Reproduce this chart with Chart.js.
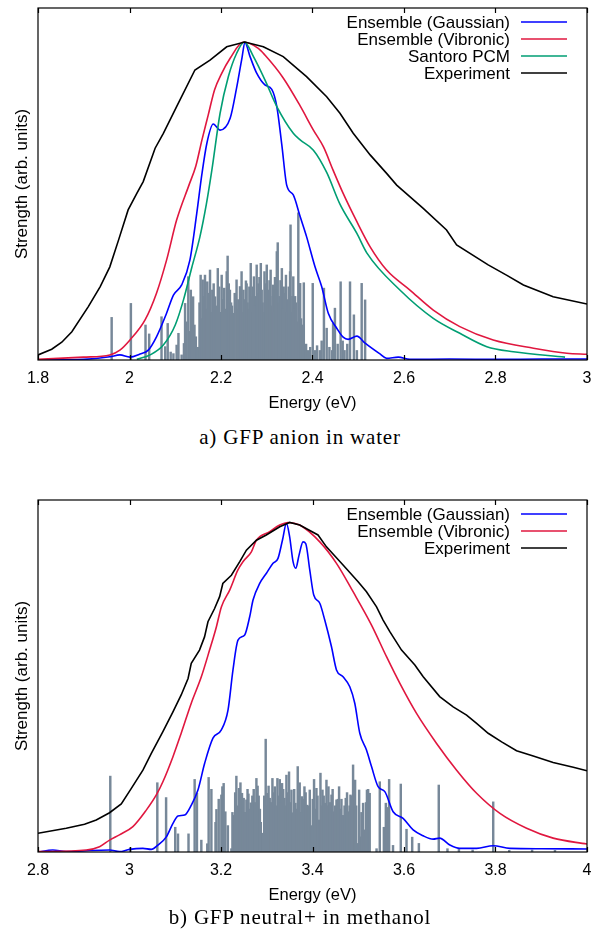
<!DOCTYPE html>
<html><head><meta charset="utf-8">
<script src="https://cdn.jsdelivr.net/npm/chart.js@4.4.0/dist/chart.umd.min.js"></script>
<style>
html,body{margin:0;padding:0;background:#fff;width:600px;height:939px;overflow:hidden;position:relative;}
.wrap{position:absolute;left:0;width:600px;height:420px;}
.cap{position:absolute;left:0;width:600px;text-align:center;font-family:"Liberation Serif","Times New Roman",serif;font-size:21px;letter-spacing:0.8px;line-height:24px;color:#000;}
</style></head><body>
<div class="wrap" style="top:0px"><canvas id="c1" width="600" height="420"></canvas></div>
<div class="cap" style="top:425px">a) GFP anion in water</div>
<div class="wrap" style="top:492px"><canvas id="c2" width="600" height="420"></canvas></div>
<div class="cap" style="top:905px">b) GFP neutral+ in methanol</div>
<script>
// ---------- tick labels ----------
const ticksA = [1.8, 2.0, 2.2, 2.4, 2.6, 2.8, 3.0];
const ticksB = [2.8, 3.0, 3.2, 3.4, 3.6, 3.8, 4.0];

// ---------- a) GFP anion in water ----------
const namesA = ['Ensemble (Gaussian)', 'Ensemble (Vibronic)', 'Santoro PCM', 'Experiment'];
const gaussA_E = [1.800,1.900,1.957,1.979,2.001,2.023,2.041,2.059,2.081,2.096,2.114,2.132,2.147,2.158,2.169,2.183,2.198,2.220,2.234,2.245,2.2525,2.2635,2.278,2.296,2.311,2.322,2.333,2.3436,2.358,2.373,2.387,2.4055,2.420,2.4345,2.453,2.467,2.478,2.497,2.515,2.5475,2.562,2.5875,2.613,2.700,2.810,2.900,3.000];
const gaussA_S = [0.000,0.002,0.010,0.016,0.009,0.019,0.031,0.073,0.147,0.204,0.236,0.314,0.461,0.582,0.681,0.742,0.723,0.760,0.855,0.943,0.998,0.954,0.902,0.865,0.851,0.797,0.676,0.550,0.519,0.451,0.388,0.293,0.231,0.147,0.100,0.072,0.065,0.075,0.053,0.019,0.005,0.009,0.002,0.003,0.002,0.003,0.003];
const vibA_E = [1.800,1.899,1.957,1.979,2.001,2.034,2.059,2.081,2.103,2.130,2.145,2.158,2.172,2.186,2.201,2.220,2.249,2.2815,2.296,2.336,2.373,2.402,2.424,2.445,2.467,2.497,2.526,2.562,2.613,2.664,2.722,2.795,2.883,2.956,3.000];
const vibA_S = [0.002,0.009,0.016,0.031,0.063,0.126,0.210,0.314,0.440,0.550,0.610,0.690,0.770,0.850,0.900,0.949,1.000,0.980,0.959,0.887,0.799,0.723,0.670,0.597,0.524,0.435,0.356,0.283,0.220,0.157,0.105,0.063,0.037,0.021,0.018];
const pcmA_E = [2.016,2.045,2.074,2.100,2.118,2.136,2.154,2.168,2.180,2.198,2.216,2.234,2.251,2.271,2.296,2.322,2.358,2.373,2.402,2.431,2.460,2.497,2.519,2.591,2.664,2.722,2.781,2.839,2.952];
const pcmA_S = [0.002,0.016,0.047,0.110,0.189,0.290,0.388,0.490,0.597,0.776,0.891,0.964,1.000,0.954,0.881,0.797,0.713,0.692,0.660,0.590,0.490,0.398,0.336,0.220,0.131,0.084,0.042,0.026,0.009];
const expA_E = [1.800,1.830,1.852,1.874,1.910,1.936,1.957,1.976,1.997,2.016,2.030,2.056,2.074,2.103,2.143,2.176,2.2125,2.252,2.2925,2.336,2.387,2.431,2.460,2.489,2.526,2.562,2.584,2.642,2.693,2.715,2.784,2.824,2.861,2.926,3.000];
const expA_S = [0.016,0.034,0.056,0.089,0.168,0.231,0.293,0.377,0.472,0.524,0.561,0.666,0.713,0.797,0.912,0.943,0.985,1.000,0.985,0.954,0.891,0.828,0.776,0.713,0.645,0.587,0.550,0.477,0.409,0.362,0.299,0.267,0.236,0.199,0.176];
const stickA_E = [1.961,2.003,2.035,2.043,2.070,2.078,2.0835,2.090,2.096,2.103,2.107,2.114,2.119,2.1215,2.1285,2.134,2.139,2.145,2.150,2.1555,2.160,2.165,2.170,2.176,2.181,2.187,2.193,2.198,2.2015,2.207,2.2125,2.2145,2.2195,2.224,2.227,2.234,2.238,2.2415,2.245,2.249,2.2545,2.258,2.262,2.265,2.268,2.272,2.275,2.278,2.282,2.287,2.291,2.295,2.300,2.304,2.3085,2.311,2.314,2.318,2.322,2.324,2.328,2.333,2.337,2.342,2.346,2.351,2.352,2.355,2.358,2.362,2.366,2.369,2.373,2.377,2.381,2.386,2.390,2.395,2.4005,2.405,2.410,2.416,2.420,2.425,2.431,2.437,2.443,2.445,2.449,2.455,2.4615,2.466,2.470,2.476,2.482,2.4905,2.497,2.5075,2.515,
  2.124,2.131,2.137,2.142,2.153,2.158,2.162,2.168,2.173,2.179,2.184,2.190,2.196,2.204,2.210,2.217,2.222,2.230,2.236,2.243,2.247,2.252,2.256,2.260,2.264,2.270,2.273,2.280,2.284,2.289,2.293,2.298,2.302,2.306,2.313,2.316,2.320,2.326,2.330,2.335,2.340,2.344,2.348,2.356,2.360,2.364,2.371,2.375,2.379];
const stickA_S = [0.134,0.178,0.110,0.082,0.136,0.042,0.115,0.025,0.020,0.047,0.084,0.016,0.052,0.178,0.262,0.220,0.199,0.073,0.040,0.267,0.252,0.267,0.246,0.283,0.220,0.199,0.288,0.150,0.267,0.226,0.278,0.327,0.220,0.170,0.147,0.252,0.190,0.231,0.278,0.220,0.249,0.180,0.230,0.304,0.150,0.262,0.200,0.299,0.240,0.304,0.180,0.278,0.299,0.220,0.283,0.170,0.236,0.260,0.341,0.369,0.200,0.288,0.230,0.267,0.190,0.278,0.425,0.150,0.262,0.200,0.120,0.463,0.241,0.090,0.243,0.050,0.030,0.040,0.241,0.030,0.045,0.030,0.060,0.226,0.100,0.040,0.030,0.115,0.163,0.050,0.246,0.060,0.030,0.050,0.246,0.142,0.030,0.241,0.189,
  0.120,0.090,0.150,0.110,0.180,0.130,0.200,0.160,0.210,0.150,0.240,0.170,0.230,0.190,0.160,0.240,0.180,0.210,0.160,0.200,0.150,0.190,0.240,0.160,0.200,0.230,0.170,0.210,0.260,0.220,0.150,0.240,0.190,0.250,0.200,0.150,0.220,0.180,0.250,0.160,0.210,0.150,0.230,0.200,0.160,0.180,0.150,0.130,0.110];

// ---------- b) GFP neutral+ in methanol ----------
const namesB = ['Ensemble (Gaussian)', 'Ensemble (Vibronic)', 'Experiment'];
const gaussB_E = [2.800,2.8324,2.8617,2.9055,2.9564,2.978,3.0002,3.0293,3.0477,3.062,3.0805,3.095,3.106,3.1205,3.135,3.1496,3.1643,3.1824,3.2008,3.2153,3.2262,3.2371,3.2518,3.2627,3.270,3.2846,3.2993,3.3137,3.3246,3.3343,3.343,3.350,3.3575,3.3634,3.3706,3.3793,3.3852,3.394,3.4027,3.4159,3.4268,3.4415,3.4524,3.4668,3.4815,3.4924,3.5034,3.518,3.529,3.5434,3.5581,3.5762,3.598,3.620,3.6419,3.6637,3.678,3.7003,3.722,3.7587,3.795,3.8315,3.900,4.000];
const gaussB_S = [0.000,0.006,0.001,0.004,0.006,0.001,0.008,0.011,0.008,0.021,0.046,0.087,0.109,0.112,0.142,0.188,0.269,0.345,0.370,0.430,0.552,0.642,0.658,0.713,0.764,0.814,0.845,0.875,0.890,0.945,0.996,0.956,0.880,0.860,0.900,0.940,0.935,0.855,0.779,0.754,0.703,0.622,0.552,0.531,0.501,0.451,0.360,0.309,0.259,0.198,0.183,0.122,0.102,0.067,0.049,0.039,0.042,0.021,0.011,0.011,0.019,0.011,0.010,0.009];
const vibB_E = [2.800,2.9055,2.9345,2.9564,2.978,3.0074,3.0367,3.0586,3.073,3.095,3.113,3.135,3.157,3.175,3.190,3.2008,3.219,3.237,3.248,3.2664,3.2774,3.3065,3.3284,3.3465,3.372,3.4159,3.4524,3.4887,3.529,3.5618,3.591,3.6274,3.6712,3.715,3.7587,3.8097,3.868,3.926,4.000];
const vibB_S = [0.001,0.006,0.016,0.036,0.052,0.077,0.127,0.173,0.213,0.289,0.360,0.451,0.531,0.612,0.683,0.743,0.794,0.855,0.880,0.910,0.945,0.971,0.991,0.999,0.991,0.940,0.875,0.789,0.688,0.592,0.511,0.420,0.329,0.248,0.178,0.117,0.072,0.042,0.024];
const expB_E = [2.800,2.8617,2.9017,2.9273,2.9564,2.982,3.004,3.0293,3.0477,3.073,3.095,3.113,3.128,3.135,3.153,3.164,3.1715,3.186,3.197,3.204,3.2227,3.241,3.2555,3.2774,3.299,3.3284,3.350,3.372,3.412,3.4305,3.4668,3.4997,3.518,3.540,3.5543,3.569,3.5946,3.6237,3.642,3.678,3.7075,3.7368,3.7587,3.784,3.8134,3.846,3.8825,3.926,3.970,4.000];
const expB_S = [0.057,0.072,0.084,0.097,0.119,0.146,0.193,0.248,0.299,0.365,0.425,0.476,0.526,0.572,0.612,0.652,0.698,0.738,0.774,0.814,0.839,0.880,0.915,0.945,0.961,0.986,0.999,0.991,0.961,0.925,0.870,0.819,0.789,0.743,0.703,0.668,0.612,0.567,0.531,0.471,0.440,0.415,0.390,0.360,0.334,0.307,0.291,0.271,0.257,0.246];
const stickB_E = [2.958,3.0017,3.0608,3.080,3.100,3.106,3.129,3.1424,3.1474,3.157,3.170,3.173,3.179,3.190,3.2008,3.203,3.2058,3.2095,3.2227,3.2284,3.2336,3.2393,3.2459,3.2496,3.2555,3.260,3.265,3.2715,3.2774,3.2824,3.287,3.2918,3.2977,3.3015,3.3065,3.3124,3.3175,3.3233,3.3284,3.3334,3.3386,3.343,3.3487,3.354,3.3575,3.3627,3.3677,3.372,3.3771,3.3824,3.388,3.394,3.398,3.4034,3.4086,3.4137,3.4174,3.4218,3.4268,3.4305,3.4349,3.4415,3.4465,3.4524,3.4581,3.4633,3.4668,3.4727,3.4787,3.483,3.4887,3.4931,3.498,3.5019,3.504,3.5106,3.5143,3.519,3.5216,3.525,3.540,3.5471,3.556,3.5603,3.563,3.5675,3.576,3.593,3.6055,3.6179,3.6325,3.676,3.695,3.720,3.750,3.795,3.830,3.880,3.930,
  3.188,3.195,3.215,3.225,3.231,3.2365,3.2425,3.2525,3.258,3.2625,3.2685,3.2745,3.280,3.285,3.2945,3.2995,3.304,3.3095,3.315,3.3205,3.326,3.331,3.336,3.341,3.346,3.351,3.360,3.365,3.370,3.3745,3.380,3.385,3.391,3.4005,3.406,3.411,3.4195,3.4245,3.4325,3.4385,3.444,3.4495,3.4555,3.461,3.470,3.4755,3.481,3.486,3.4955,3.507,3.517];
const stickB_S = [0.230,0.013,0.210,0.165,0.075,0.055,0.055,0.220,0.178,0.036,0.025,0.226,0.190,0.129,0.173,0.198,0.208,0.122,0.010,0.111,0.230,0.193,0.178,0.163,0.158,0.176,0.149,0.190,0.223,0.170,0.090,0.057,0.342,0.178,0.163,0.223,0.198,0.223,0.220,0.208,0.163,0.233,0.243,0.188,0.119,0.148,0.259,0.210,0.168,0.198,0.142,0.188,0.080,0.220,0.193,0.097,0.239,0.188,0.148,0.218,0.198,0.173,0.122,0.158,0.198,0.160,0.111,0.163,0.122,0.173,0.264,0.218,0.026,0.188,0.046,0.148,0.067,0.188,0.190,0.178,0.010,0.213,0.075,0.148,0.135,0.220,0.020,0.206,0.069,0.045,0.026,0.203,0.010,0.008,0.006,0.152,0.005,0.006,0.005,
  0.090,0.160,0.080,0.120,0.180,0.140,0.210,0.120,0.190,0.130,0.170,0.150,0.200,0.130,0.170,0.140,0.200,0.150,0.180,0.140,0.170,0.150,0.190,0.140,0.180,0.150,0.190,0.130,0.170,0.120,0.160,0.180,0.140,0.160,0.130,0.170,0.140,0.170,0.140,0.150,0.190,0.140,0.160,0.130,0.140,0.180,0.140,0.170,0.140,0.120,0.150];

// ---------- helpers ----------
const pts = (xs, ys) => xs.map((x, i) => ({x: x, y: ys[i]}));
const COL = {gauss: '#0000ff', vib: '#e0173f', pcm: '#009e73', exp: '#000000', stick: '#778899'};
const SANS = '"Liberation Sans", Arial, sans-serif';

const framePlugin = {
  id: 'gpFrame',
  afterDraw(chart) {
    const ctx = chart.ctx;
    const {left, right, top, bottom} = chart.chartArea;
    const xs = chart.scales.x;
    ctx.save();
    ctx.strokeStyle = '#000';
    ctx.lineWidth = 1.2;
    xs.ticks.forEach(t => {
      const px = Math.round(xs.getPixelForValue(t.value)) + 0.5;
      ctx.beginPath();
      ctx.moveTo(px, bottom); ctx.lineTo(px, bottom - 5);
      ctx.moveTo(px, top); ctx.lineTo(px, top + 5);
      ctx.stroke();
    });
    ctx.strokeRect(left, top, right - left, bottom - top);
    // gnuplot-style key
    ctx.font = '17px ' + SANS;
    ctx.fillStyle = '#000';
    ctx.textAlign = 'right';
    ctx.textBaseline = 'middle';
    let row = 0;
    chart.data.datasets.forEach(ds => {
      if (ds.type !== 'line') return;
      const y = top + 14 + row * 17;
      ctx.fillText(ds.label, 510, y + 1);
      ctx.beginPath();
      ctx.strokeStyle = ds.borderColor;
      ctx.lineWidth = 1.6;
      ctx.moveTo(521, y); ctx.lineTo(567, y);
      ctx.stroke();
      row++;
    });
    ctx.restore();
  }
};

function lineDs(label, xs, ys, color, order, smooth) {
  return {
    type: 'line', label: label, data: pts(xs, ys), borderColor: color,
    borderWidth: 1.6, pointRadius: 0, fill: false, order: order,
    tension: smooth ? 0.4 : 0, cubicInterpolationMode: smooth ? 'monotone' : 'default'
  };
}

function makeChart(id, tickList, yMax, datasets) {
  const xmin = tickList[0], xmax = tickList[tickList.length - 1];
  return new Chart(document.getElementById(id), {
    type: 'line',
    data: {datasets: datasets},
    plugins: [framePlugin],
    options: {
      responsive: false, animation: false, events: [],
      layout: {padding: {left: 0, right: 13, top: 8, bottom: 0}},
      plugins: {legend: {display: false}, tooltip: {enabled: false}},
      scales: {
        x: {
          type: 'linear', min: xmin, max: xmax, offset: false,
          grid: {display: false, drawTicks: false}, border: {display: false},
          afterBuildTicks: s => { s.ticks = tickList.map(v => ({value: v})); },
          afterFit: s => { s.height = 60; },
          ticks: {
            autoSkip: false, maxRotation: 0, padding: 8.5, color: '#000',
            font: {family: SANS, size: 16},
            callback: v => String(Math.round(v * 10) / 10)
          },
          title: {display: true, text: 'Energy (eV)', color: '#000',
                  font: {family: SANS, size: 16.5}, padding: {top: 0, bottom: 7}}
        },
        y: {
          min: 0, max: yMax,
          grid: {display: false, drawTicks: false}, border: {display: false},
          ticks: {display: false},
          afterFit: s => { s.width = 38; },
          title: {display: true, text: 'Strength (arb. units)', color: '#000',
                  font: {family: SANS, size: 17}, padding: {top: 12, bottom: 0}}
        }
      }
    }
  });
}

makeChart('c1', ticksA, 1.107, [
  lineDs(namesA[0], gaussA_E, gaussA_S, COL.gauss, 3, true),
  lineDs(namesA[1], vibA_E, vibA_S, COL.vib, 2, true),
  lineDs(namesA[2], pcmA_E, pcmA_S, COL.pcm, 1, true),
  lineDs(namesA[3], expA_E, expA_S, COL.exp, 0, false),
  {type: 'bar', label: 'sticks', data: pts(stickA_E, stickA_S), backgroundColor: COL.stick,
   borderWidth: 0, barThickness: 1.8, grouped: false, order: 10}
]);

makeChart('c2', ticksB, 1.067, [
  lineDs(namesB[0], gaussB_E, gaussB_S, COL.gauss, 3, true),
  lineDs(namesB[1], vibB_E, vibB_S, COL.vib, 2, true),
  lineDs(namesB[2], expB_E, expB_S, COL.exp, 0, false),
  {type: 'bar', label: 'sticks', data: pts(stickB_E, stickB_S), backgroundColor: COL.stick,
   borderWidth: 0, barThickness: 1.8, grouped: false, order: 10}
]);
</script>
</body></html>
